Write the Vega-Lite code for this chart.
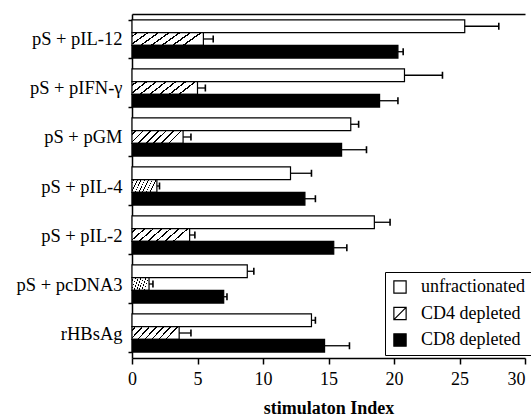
{
  "$schema": "https://vega.github.io/schema/vega-lite/v6.json",
  "width": 393,
  "height": 344,
  "autosize": {"type": "none"},
  "padding": {"left": 132, "top": 14, "right": 6, "bottom": 58},
  "background": "white",
  "config": {"view": {"stroke": null}, "font": "Liberation Serif"},
  "data": {
    "values": [
      {"group": "pS + pIL-12", "series": "unfractionated", "value": 25.4, "hi": 28.0},
      {"group": "pS + pIL-12", "series": "CD4 depleted", "value": 5.45, "hi": 6.2},
      {"group": "pS + pIL-12", "series": "CD8 depleted", "value": 20.3, "hi": 20.7},
      {"group": "pS + pIFN-γ", "series": "unfractionated", "value": 20.8, "hi": 23.7},
      {"group": "pS + pIFN-γ", "series": "CD4 depleted", "value": 5.0, "hi": 5.6},
      {"group": "pS + pIFN-γ", "series": "CD8 depleted", "value": 18.9, "hi": 20.3},
      {"group": "pS + pGM", "series": "unfractionated", "value": 16.7, "hi": 17.3},
      {"group": "pS + pGM", "series": "CD4 depleted", "value": 3.9, "hi": 4.5},
      {"group": "pS + pGM", "series": "CD8 depleted", "value": 16.0, "hi": 17.9},
      {"group": "pS + pIL-4", "series": "unfractionated", "value": 12.1, "hi": 13.7},
      {"group": "pS + pIL-4", "series": "CD4 depleted", "value": 1.9, "hi": 2.1},
      {"group": "pS + pIL-4", "series": "CD8 depleted", "value": 13.2, "hi": 14.0},
      {"group": "pS + pIL-2", "series": "unfractionated", "value": 18.5, "hi": 19.7},
      {"group": "pS + pIL-2", "series": "CD4 depleted", "value": 4.4, "hi": 4.8},
      {"group": "pS + pIL-2", "series": "CD8 depleted", "value": 15.4, "hi": 16.4},
      {"group": "pS + pcDNA3", "series": "unfractionated", "value": 8.8, "hi": 9.3},
      {"group": "pS + pcDNA3", "series": "CD4 depleted", "value": 1.3, "hi": 1.6},
      {"group": "pS + pcDNA3", "series": "CD8 depleted", "value": 7.0, "hi": 7.25},
      {"group": "rHBsAg", "series": "unfractionated", "value": 13.7, "hi": 14.0},
      {"group": "rHBsAg", "series": "CD4 depleted", "value": 3.6, "hi": 4.5},
      {"group": "rHBsAg", "series": "CD8 depleted", "value": 14.7, "hi": 16.6}
    ]
  },
  "encoding": {
    "y": {
      "field": "group",
      "type": "nominal",
      "sort": ["pS + pIL-12", "pS + pIFN-γ", "pS + pGM", "pS + pIL-4", "pS + pIL-2", "pS + pcDNA3", "rHBsAg"],
      "scale": {"paddingInner": 0.22, "paddingOuter": 0.12},
      "axis": {
        "title": null,
        "labelFont": "Liberation Serif",
        "labelFontSize": 18.5,
        "labelColor": "black",
        "tickColor": "black",
        "domainColor": "black",
        "domainWidth": 1.5,
        "tickWidth": 1.5,
        "tickSize": 4,
        "labelPadding": 6,
        "tickBand": "extent"
      }
    },
    "yOffset": {
      "field": "series",
      "type": "nominal",
      "sort": ["unfractionated", "CD4 depleted", "CD8 depleted"],
      "scale": {"paddingInner": 0, "paddingOuter": 0}
    }
  },
  "layer": [
    {
      "mark": {"type": "bar", "stroke": "black", "strokeWidth": 1.2},
      "encoding": {
        "x": {
          "field": "value",
          "type": "quantitative",
          "scale": {"domain": [0, 30], "nice": false},
          "axis": {
            "orient": "bottom",
            "title": "stimulaton Index",
            "titleFont": "Liberation Serif",
            "titleFontSize": 18,
            "titleFontWeight": "bold",
            "titleColor": "black",
            "titlePadding": 11,
            "values": [0, 5, 10, 15, 20, 25, 30],
            "labelFont": "Liberation Serif",
            "labelFontSize": 18,
            "labelColor": "black",
            "labelFlush": false,
            "labelAlign": {"expr": "datum.value === 30 ? 'right' : 'center'"},
            "tickColor": "black",
            "tickSize": 6,
            "tickWidth": 1.5,
            "domainColor": "black",
            "domainWidth": 1.5,
            "grid": false,
            "labelPadding": 6
          }
        },
        "fill": {
          "condition": {
            "test": "datum.series === 'CD4 depleted'",
            "value": {
              "gradient": "linear",
              "x1": 0, "y1": 0, "x2": 1, "y2": 0.25,
              "stops": [
                {"offset": 0, "color": "white"},
                {"offset": 0.055, "color": "white"}, {"offset": 0.055, "color": "black"}, {"offset": 0.085, "color": "black"}, {"offset": 0.085, "color": "white"},
                {"offset": 0.195, "color": "white"}, {"offset": 0.195, "color": "black"}, {"offset": 0.225, "color": "black"}, {"offset": 0.225, "color": "white"},
                {"offset": 0.335, "color": "white"}, {"offset": 0.335, "color": "black"}, {"offset": 0.365, "color": "black"}, {"offset": 0.365, "color": "white"},
                {"offset": 0.475, "color": "white"}, {"offset": 0.475, "color": "black"}, {"offset": 0.505, "color": "black"}, {"offset": 0.505, "color": "white"},
                {"offset": 0.615, "color": "white"}, {"offset": 0.615, "color": "black"}, {"offset": 0.645, "color": "black"}, {"offset": 0.645, "color": "white"},
                {"offset": 0.755, "color": "white"}, {"offset": 0.755, "color": "black"}, {"offset": 0.785, "color": "black"}, {"offset": 0.785, "color": "white"},
                {"offset": 0.895, "color": "white"}, {"offset": 0.895, "color": "black"}, {"offset": 0.925, "color": "black"}, {"offset": 0.925, "color": "white"},
                {"offset": 1, "color": "white"}
              ]
            }
          },
          "field": "series",
          "type": "nominal",
          "scale": {
            "domain": ["unfractionated", "CD4 depleted", "CD8 depleted"],
            "range": ["white", "white", "black"]
          },
          "legend": {
            "orient": "none",
            "legendX": 253,
            "legendY": 258,
            "title": null,
            "strokeColor": "black",
            "fillColor": "white",
            "padding": 6,
            "rowPadding": 8.5,
            "labelFont": "Liberation Serif",
            "labelFontSize": 18,
            "labelColor": "black",
            "labelOffset": 12,
            "symbolSize": 150,
            "symbolOpacity": 1,
            "symbolStrokeColor": "black",
            "symbolStrokeWidth": 1.2,
            "encode": {
              "symbols": {
                "update": {
                  "stroke": {"value": "black"},
                  "strokeWidth": {"value": 1.2},
                  "opacity": {"value": 1}
                }
              }
            }
          }
        }
      }
    },
    {
      "mark": {"type": "point", "opacity": 0, "filled": false},
      "encoding": {
        "x": {"field": "value", "type": "quantitative", "axis": null},
        "shape": {
          "field": "series",
          "type": "nominal",
          "scale": {
            "domain": ["unfractionated", "CD4 depleted", "CD8 depleted"],
            "range": ["square", "M-1,-1H1V1H-1Z M-1,1L1,-1", "square"]
          },
          "legend": {
            "orient": "none",
            "legendX": 253,
            "legendY": 258,
            "title": null,
            "strokeColor": "black",
            "fillColor": "white",
            "padding": 6,
            "rowPadding": 8.5,
            "labelFont": "Liberation Serif",
            "labelFontSize": 18,
            "labelColor": "black",
            "labelOffset": 12,
            "symbolSize": 150,
            "symbolOpacity": 1,
            "symbolStrokeColor": "black",
            "symbolStrokeWidth": 1.2
          }
        }
      }
    },
    {
      "mark": {"type": "rule", "stroke": "black", "strokeWidth": 1.3},
      "encoding": {
        "x": {"field": "value", "type": "quantitative", "axis": null},
        "x2": {"field": "hi"}
      }
    },
    {
      "mark": {"type": "tick", "color": "black", "thickness": 1.6, "size": 7, "orient": "vertical", "opacity": 1},
      "encoding": {
        "x": {
          "field": "hi",
          "type": "quantitative",
          "axis": {"orient": "top", "title": null, "labels": false, "ticks": false, "grid": false, "domain": true, "domainColor": "black", "domainWidth": 1.5}
        }
      }
    }
  ],
  "resolve": {"axis": {"x": "independent"}}
}
